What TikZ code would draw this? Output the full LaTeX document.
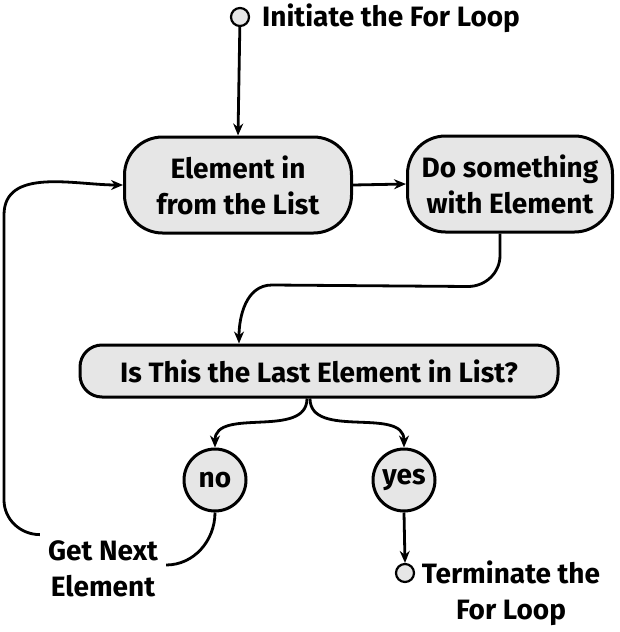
\documentclass[tikz,border=0pt]{standalone}
\usepackage{fontspec}
\setmainfont{Fira Sans}
\usetikzlibrary{arrows.meta}
\definecolor{boxgray}{HTML}{E6E6E6}
\begin{document}
\begin{tikzpicture}[x=1pt,y=-1pt,
  every node/.style={font=\fontsize{28}{36}\selectfont\bfseries},
  box/.style={draw,line width=3pt,fill=boxgray,align=center,inner sep=0pt},
  dot/.style={circle,draw,line width=2.2pt,fill=boxgray,minimum size=18pt,inner sep=0pt},
  choice/.style={circle,draw,line width=3pt,fill=boxgray,minimum size=62pt,inner sep=0pt},
  lbl/.style={align=center,inner sep=0pt},
  conn/.style={line width=2.8pt},
  arr/.style={conn,-{Stealth[length=12pt,width=10pt]}}]
\useasboundingbox (0,0) rectangle (619,632);
% start
\node[dot] (start) at (240,17) {};
\node[lbl,anchor=west] (startlbl) at (262,18) {Initiate the For Loop};
% boxes
\node[box,rounded corners=38pt,minimum width=227pt,minimum height=96pt] (b1) at (238,185) {Element in\\from the List};
\node[box,rounded corners=38pt,minimum width=205pt,minimum height=96pt] (b2) at (510,184) {Do something\\with Element};
\node[box,rounded corners=22pt,minimum width=478pt,minimum height=52pt] (b3) at (319,371) {Is This the Last Element in List?};
% choices
\node[choice] (no) at (215,480) {no};
\node[choice] (yes) at (404,480) {yes};
% end
\node[dot] (term) at (405,573) {};
\node[lbl] (termlbl) at (511,593) {Terminate the\\For Loop};
\node[lbl] (gne) at (103,569) {Get Next\\Element};
% connectors
\draw[arr] (start) -- (b1.north);
\draw[arr] (b1.east) -- (b2.west);
\draw[arr] ([xshift=-10pt]b2.south) -- ++(0,22) to[out=-90,in=0] ++(-32,31) -- (272,285) to[out=180,in=90] ([xshift=-80pt]b3.north);
\draw[arr] ([xshift=-12pt]b3.south) to[out=-90,in=90] (no.north);
\draw[arr] ([xshift=-9pt]b3.south) to[out=-90,in=90] (yes.north);
\draw[conn] (no.south) to[out=-90,in=0] ([xshift=8pt,yshift=4pt]gne.east);
\draw[arr] ([xshift=-8pt,yshift=6pt]gne.north west) to[out=180,in=-90] (4,500) -- (4,215) to[out=90,in=180] (b1.west);
\draw[arr] (yes.south) -- (term.north);
\end{tikzpicture}
\end{document}
